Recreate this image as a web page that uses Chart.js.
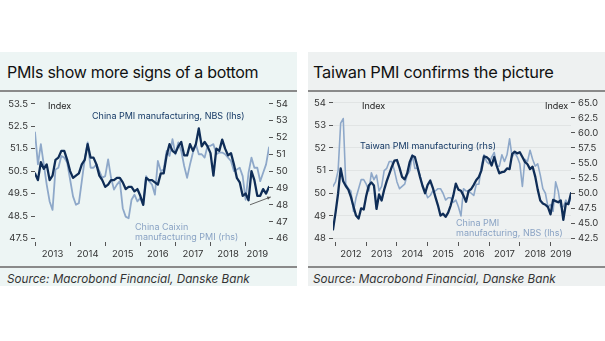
<!DOCTYPE html>
<html><head><meta charset="utf-8">
<script src="https://cdn.jsdelivr.net/npm/chart.js@4/dist/chart.umd.min.js"></script>
<style>
html,body{margin:0;padding:0;background:#fff;width:605px;height:341px;overflow:hidden;font-family:Inter,"Liberation Sans",sans-serif;}
.panel{position:absolute;top:52px;height:234px;width:297px;}
#p1{left:0;background:#edf5f4;}
#p2{left:308px;width:297px;background:#eef1f1;}
.title{position:absolute;left:7px;top:10px;font-size:16px;line-height:20px;color:#111;white-space:nowrap;letter-spacing:-0.3px}
.rule{position:absolute;left:0;width:100%;height:1.5px;background:#8a8a8a}
.src{position:absolute;left:7px;top:220px;font-size:11.7px;line-height:15px;font-style:italic;color:#333;white-space:nowrap}
canvas{position:absolute;left:0;top:40px}
.ann{position:absolute;font-size:9px;line-height:10px;white-space:nowrap}
</style></head>
<body>
<div class="panel" id="p1">
  <div class="title">PMIs show more signs of a bottom</div>
  <div class="rule" style="top:38px"></div>
  <canvas id="c1" width="297" height="172"></canvas>
  <div class="ann" style="left:48px;top:49px;color:#222">Index</div>
  <div class="ann" style="left:92px;top:59px;color:#163a66">China PMI manufacturing, NBS (lhs)</div>
  <div class="ann" style="left:135px;top:170px;color:#8aa3c4">China Caixin<br>manufacturing PMI (rhs)</div>
  <div class="rule" style="top:214px"></div>
  <div class="src">Source: Macrobond Financial, Danske Bank</div>
</div>
<div class="panel" id="p2">
  <div class="title" style="left:5px;font-size:16.4px">Taiwan PMI confirms the picture</div>
  <div class="rule" style="top:38px"></div>
  <canvas id="c2" width="297" height="172"></canvas>
  <div class="ann" style="left:54px;top:49px;color:#222">Index</div>
  <div class="ann" style="left:237px;top:49px;color:#222">Index</div>
  <div class="ann" style="left:52px;top:89px;color:#163a66">Taiwan PMI manufacturing (rhs)</div>
  <div class="ann" style="left:148px;top:166px;color:#8aa3c4">China PMI<br>manufacturing, NBS (lhs)</div>
  <div class="rule" style="top:214px"></div>
  <div class="src" style="left:5px">Source: Macrobond Financial, Danske Bank</div>
</div>
<script>
// ---------- DATA ----------
// Left panel: Jan 2013 .. Sep 2019 (monthly)
const chinaNbsLeft = [
  50.4,50.1,50.9,50.6,50.8,50.1,50.3,51.0,51.1,51.4,51.4,51.0,
  50.5,50.2,50.3,50.4,50.8,51.0,51.7,51.1,51.1,50.8,50.3,50.1,
  49.8,49.9,50.1,50.1,50.2,50.2,50.0,49.7,49.8,49.8,49.6,49.7,
  49.4,49.0,50.2,50.1,50.1,50.0,49.9,50.4,50.4,51.2,51.7,51.4,
  51.3,51.6,51.8,51.2,51.2,51.7,51.4,51.7,52.4,51.6,51.8,51.6,
  51.3,50.3,51.5,51.4,51.9,51.5,51.2,51.3,50.8,50.2,50.0,49.4,
  49.5,49.2,50.5,50.1,49.4,49.4,49.7,49.5,49.8
];
const caixin = [
  52.3,50.4,51.6,50.4,49.2,48.2,47.7,50.1,50.2,50.9,50.8,50.5,
  49.5,48.5,48.0,48.1,49.4,50.7,51.7,50.2,50.2,50.4,50.0,49.6,
  49.7,50.7,49.6,48.9,49.2,49.4,47.8,47.3,47.2,48.3,48.6,48.2,
  48.4,48.0,49.7,49.4,49.2,48.6,50.6,50.0,50.1,51.2,50.9,51.9,
  51.0,51.7,51.2,50.3,49.6,50.4,51.1,51.6,51.0,51.0,50.8,51.5,
  51.5,51.6,51.0,51.1,51.1,51.0,50.8,50.6,50.0,50.1,50.2,49.7,
  48.3,49.9,50.8,50.2,50.2,49.4,49.9,50.4,51.4
];
const leftYears = ['2013','2014','2015','2016','2017','2018','2019'];
const leftTicksL = [47.5,48.5,49.5,50.5,51.5,52.5,53.5];
const leftTicksR = [46,47,48,49,50,51,52,53,54];

// Right panel: Dec 2011 .. Sep 2019 (monthly)
const rightStartOffset = -1; // first point is Dec 2011 (month -1 relative to Jan 2012)
const chinaNbsRight = [
  50.3,
  50.5,51.0,53.1,53.3,50.4,50.2,50.1,49.2,49.8,50.2,50.6,50.6,
  50.4,50.1,50.9,50.6,50.8,50.1,50.3,51.0,51.1,51.4,51.4,51.0,
  50.5,50.2,50.3,50.4,50.8,51.0,51.7,51.1,51.1,50.8,50.3,50.1,
  49.8,49.9,50.1,50.1,50.2,50.2,50.0,49.7,49.8,49.8,49.6,49.7,
  49.4,49.0,50.2,50.1,50.1,50.0,49.9,50.4,50.4,51.2,51.7,51.4,
  51.3,51.6,51.8,51.2,51.2,51.7,51.4,51.7,52.4,51.6,51.8,51.6,
  51.3,50.3,51.5,51.4,51.9,51.5,51.2,51.3,50.8,50.2,50.0,49.4,
  49.5,49.2,50.5,50.1,49.4,49.4,49.7,49.5,49.8
];
const taiwanPmi = [
  44.0,
  46.8,50.0,54.1,52.0,51.2,50.6,49.4,47.8,46.3,45.8,47.5,47.3,
  49.6,51.3,51.8,51.3,47.4,49.8,48.8,50.6,52.0,53.2,54.4,55.4,
  55.5,54.2,52.7,52.3,53.3,55.2,56.2,56.0,54.4,52.7,51.2,50.0,
  51.4,52.1,50.9,49.4,48.0,46.3,46.6,46.1,46.8,48.0,49.6,51.6,
  50.6,50.4,49.6,48.6,50.4,50.7,51.4,52.2,52.7,53.8,56.1,56.0,
  55.6,54.6,56.0,54.5,53.3,53.5,53.6,54.1,54.0,56.5,56.9,56.6,
  56.8,56.0,55.2,54.8,54.0,54.4,52.8,50.6,48.8,48.3,48.1,47.7,
  46.5,48.9,48.7,48.5,48.8,45.6,48.3,48.2,50.0
];
const rightYears = ['2012','2013','2014','2015','2016','2017','2018','2019'];
const rightTicksL = [48,49,50,51,52,53,54];
const rightTicksR = [42.5,45,47.5,50,52.5,55,57.5,60,62.5,65];

// arrow annotation in left panel (month index, lhs value)
const arrowFrom = {m:73.5, v:49.0};
const arrowTo = {m:80.6, v:49.35};

// ---------- STYLE ----------
const DARK = '#0f2d57';
const LIGHT = '#8ea8c9';
const TICKFONT = {family:'Inter, "Liberation Sans", sans-serif', size:9.5};
const TICKCOL = '#333';

function toPts(arr, offset){ return arr.map((v,i)=>({x:i+offset, y:v})); }

function xAxis(nMonths, offset, years){
  const last = nMonths - 1 + offset;
  const tv = [];
  for (let m = 0; m <= last; m += 12) tv.push(m);
  const lv = [];
  years.forEach((y,i)=>{ const s=i*12; const e=Math.min(s+12,last); lv.push((s+e)/2); });
  const labelMap = {};
  lv.forEach((v,i)=>labelMap[v]=years[i]);
  const all = Array.from(new Set(tv.concat(lv))).sort((a,b)=>a-b);
  return {
    type:'linear', min:offset, max:last,
    afterBuildTicks: s => { s.ticks = all.map(v=>({value:v})); },
    afterFit: s => { s.height = 22; },
    border:{display:false},
    grid:{drawOnChartArea:false, tickLength:4, lineWidth:1,
      tickColor: c => (c.tick && tv.includes(c.tick.value)) ? '#555' : 'rgba(0,0,0,0)'},
    ticks:{autoSkip:false, maxRotation:0, padding:2, font:TICKFONT, color:TICKCOL,
      callback: v => labelMap[v] !== undefined ? labelMap[v] : ''}
  };
}
function yAxis(pos, min, max, ticks, width, dec, gridOn){
  return {
    position:pos, min:min, max:max,
    afterBuildTicks: s => { s.ticks = ticks.map(v=>({value:v})); },
    afterFit: s => { s.width = width; },
    border:{display:false},
    grid:{drawOnChartArea:!!gridOn, color:'rgba(0,0,0,0.05)', tickLength:4, tickColor:'#555', lineWidth:1},
    ticks:{padding:3, font:TICKFONT, color:TICKCOL, callback: v => dec ? v.toFixed(dec) : String(v)}
  };
}

const arrowPlugin = {
  id:'arrow',
  afterDatasetsDraw(chart){
    const xs = chart.scales.x, ys = chart.scales.y, c = chart.ctx;
    const x1 = xs.getPixelForValue(arrowFrom.m), y1 = ys.getPixelForValue(arrowFrom.v);
    const x2 = xs.getPixelForValue(arrowTo.m), y2 = ys.getPixelForValue(arrowTo.v);
    const a = Math.atan2(y2-y1, x2-x1), h = 4;
    c.save(); c.strokeStyle='#555'; c.fillStyle='#555'; c.lineWidth=0.9;
    c.beginPath(); c.moveTo(x1,y1); c.lineTo(x2,y2); c.stroke();
    c.beginPath(); c.moveTo(x2,y2);
    c.lineTo(x2 - h*Math.cos(a-0.45), y2 - h*Math.sin(a-0.45));
    c.lineTo(x2 - h*Math.cos(a+0.45), y2 - h*Math.sin(a+0.45));
    c.closePath(); c.fill(); c.restore();
  }
};

const common = {
  responsive:false, animation:false, devicePixelRatio:1,
  layout:{padding:{top:8,left:0,right:0,bottom:0}},
  plugins:{legend:{display:false}, tooltip:{enabled:false}},
  elements:{point:{radius:0}, line:{tension:0, borderJoinStyle:'round', borderCapStyle:'round'}}
};

new Chart(document.getElementById('c1'), {
  type:'line',
  data:{datasets:[
    {label:'China PMI manufacturing, NBS (lhs)', data:toPts(chinaNbsLeft,0), yAxisID:'y', borderColor:DARK, borderWidth:2.3},
    {label:'China Caixin manufacturing PMI (rhs)', data:toPts(caixin,0), yAxisID:'y1', borderColor:LIGHT, borderWidth:1.8}
  ]},
  options:Object.assign({}, common, {scales:{
    x: xAxis(chinaNbsLeft.length, 0, leftYears),
    y: yAxis('left', 47.345, 53.633, leftTicksL, 35, 1, false),
    y1: yAxis('right', 45.793, 54.177, leftTicksR, 28, 0, false)
  }}),
  plugins:[arrowPlugin]
});

new Chart(document.getElementById('c2'), {
  type:'line',
  data:{datasets:[
    {label:'Taiwan PMI manufacturing (rhs)', data:toPts(taiwanPmi,rightStartOffset), yAxisID:'y1', borderColor:DARK, borderWidth:2.3},
    {label:'China PMI manufacturing, NBS (lhs)', data:toPts(chinaNbsRight,rightStartOffset), yAxisID:'y', borderColor:LIGHT, borderWidth:1.6}
  ]},
  options:Object.assign({}, common, {scales:{
    x: xAxis(taiwanPmi.length, rightStartOffset, rightYears),
    y: yAxis('left', 47.846, 54.088, rightTicksL, 25, 0, true),
    y1: yAxis('right', 41.923, 65.33, rightTicksR, 34, 1, false)
  }})
});
</script>
</body></html>
